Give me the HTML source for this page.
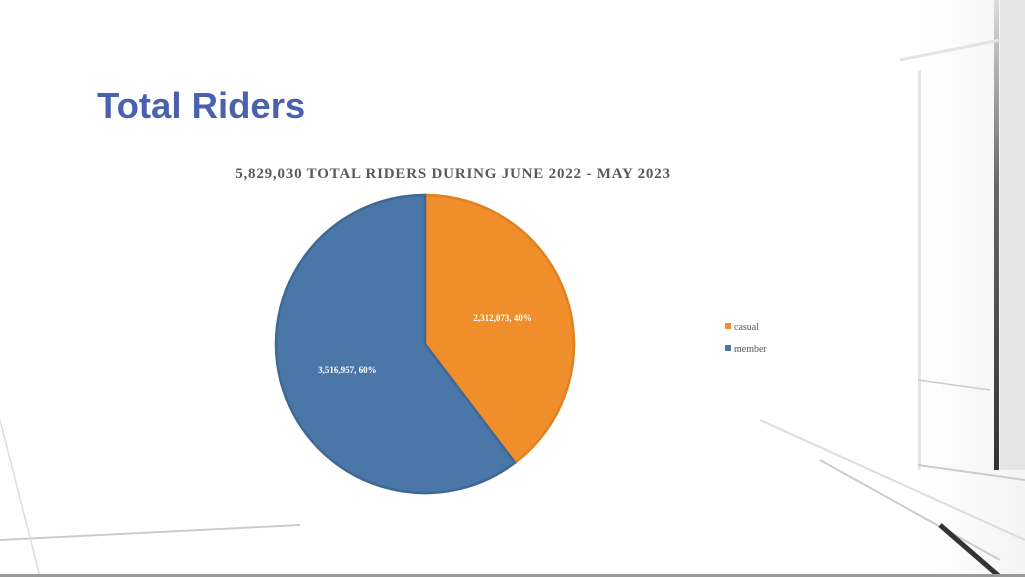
<!DOCTYPE html>
<html><head><meta charset="utf-8"><style>
html,body{margin:0;padding:0;}
body{width:1025px;height:577px;overflow:hidden;background:#fff;position:relative;font-family:"Liberation Serif",serif;}
#bg{position:absolute;left:0;top:0;}
#title{position:absolute;left:97px;top:85px;font-family:"Liberation Sans",sans-serif;font-weight:bold;font-size:36.5px;color:#4a62ad;margin:0;}
#chart{position:absolute;left:0;top:0;}
</style></head><body>
<svg id="bg" width="1025" height="577">
<defs><linearGradient id="g1" x1="0" x2="1"><stop offset="0" stop-color="#fff"/><stop offset="1" stop-color="#ececec"/></linearGradient>
<linearGradient id="g2" x1="0" y1="0" x2="0" y2="1"><stop offset="0" stop-color="#ddd"/><stop offset="0.4" stop-color="#666"/><stop offset="1" stop-color="#333"/></linearGradient></defs>
<rect x="920" y="0" width="105" height="577" fill="url(#g1)" opacity="0.6"/>
<rect x="918" y="70" width="3" height="400" fill="#e6e6e6"/>
<rect x="994" y="0" width="5" height="470" fill="url(#g2)"/>
<rect x="1000" y="0" width="25" height="470" fill="#e4e4e4"/>
<line x1="900" y1="60" x2="1025" y2="35" stroke="#e4e4e4" stroke-width="3"/>
<line x1="918" y1="380" x2="990" y2="390" stroke="#ccc" stroke-width="1.5"/>
<line x1="918" y1="465" x2="1025" y2="480" stroke="#ccc" stroke-width="2"/>
<line x1="760" y1="420" x2="1025" y2="540" stroke="#ddd" stroke-width="2"/>
<line x1="820" y1="460" x2="1000" y2="560" stroke="#ccc" stroke-width="2"/>
<line x1="940" y1="525" x2="1000" y2="577" stroke="#333" stroke-width="5"/>
<line x1="0" y1="540" x2="300" y2="525" stroke="#ccc" stroke-width="2"/>
<line x1="0" y1="420" x2="40" y2="577" stroke="#ddd" stroke-width="1.5"/>
<rect x="0" y="574" width="1025" height="3" fill="#999"/>
</svg>
<h1 id="title">Total Riders</h1>
<svg id="chart" width="1025" height="577"></svg>
<script>
const categories=["casual","member"];
const values=[2312073,3516957];
const labels=["2,312,073, 40%","3,516,957, 60%"];
const colors=["#f08e2b","#4a76a8"];
const strokes=["#e0801f","#3f6896"];
const svg=document.getElementById('chart');
const NS="http://www.w3.org/2000/svg";
function mk(t,a){const e=document.createElementNS(NS,t);for(const k in a)e.setAttribute(k,a[k]);return e;}
const cx=425,cy=344,r=149;
const total=values.reduce((a,b)=>a+b,0);
let t=mk('text',{x:453,y:178,'text-anchor':'middle','font-size':15,'font-weight':'bold',fill:'#595959','letter-spacing':'0.8'});
t.textContent=total.toLocaleString('en-US')+" TOTAL RIDERS DURING JUNE 2022 - MAY 2023";


svg.appendChild(t);
let a0=0;
values.forEach((v,i)=>{
 const a1=a0+v/total*2*Math.PI;
 const p=(a)=>[cx+r*Math.sin(a),cy-r*Math.cos(a)];
 const [x0,y0]=p(a0),[x1,y1]=p(a1);
 const large=(a1-a0)>Math.PI?1:0;
 const path=mk('path',{d:`M${cx},${cy} L${x0},${y0} A${r},${r} 0 ${large} 1 ${x1},${y1} Z`,fill:colors[i],stroke:strokes[i],'stroke-width':2.5});
 
 
 svg.appendChild(path);
 const am=(a0+a1)/2,lr=r*0.55;
 const lt=mk('text',{x:cx+lr*Math.sin(am),y:cy-lr*Math.cos(am)+3,'text-anchor':'middle','font-size':9,'font-weight':'bold',fill:'#fff'});
 lt.textContent=labels[i];
 
 
 svg.appendChild(lt);
 const sq=mk('rect',{x:725,y:323+i*22,width:6,height:6,fill:colors[i]});
 
 
 svg.appendChild(sq);
 const tx=mk('text',{x:734,y:330+i*22,'font-size':10,fill:'#595959'});
 tx.textContent=categories[i];
 
 
 svg.appendChild(tx);
 a0=a1;
});
</script>
</body></html>
